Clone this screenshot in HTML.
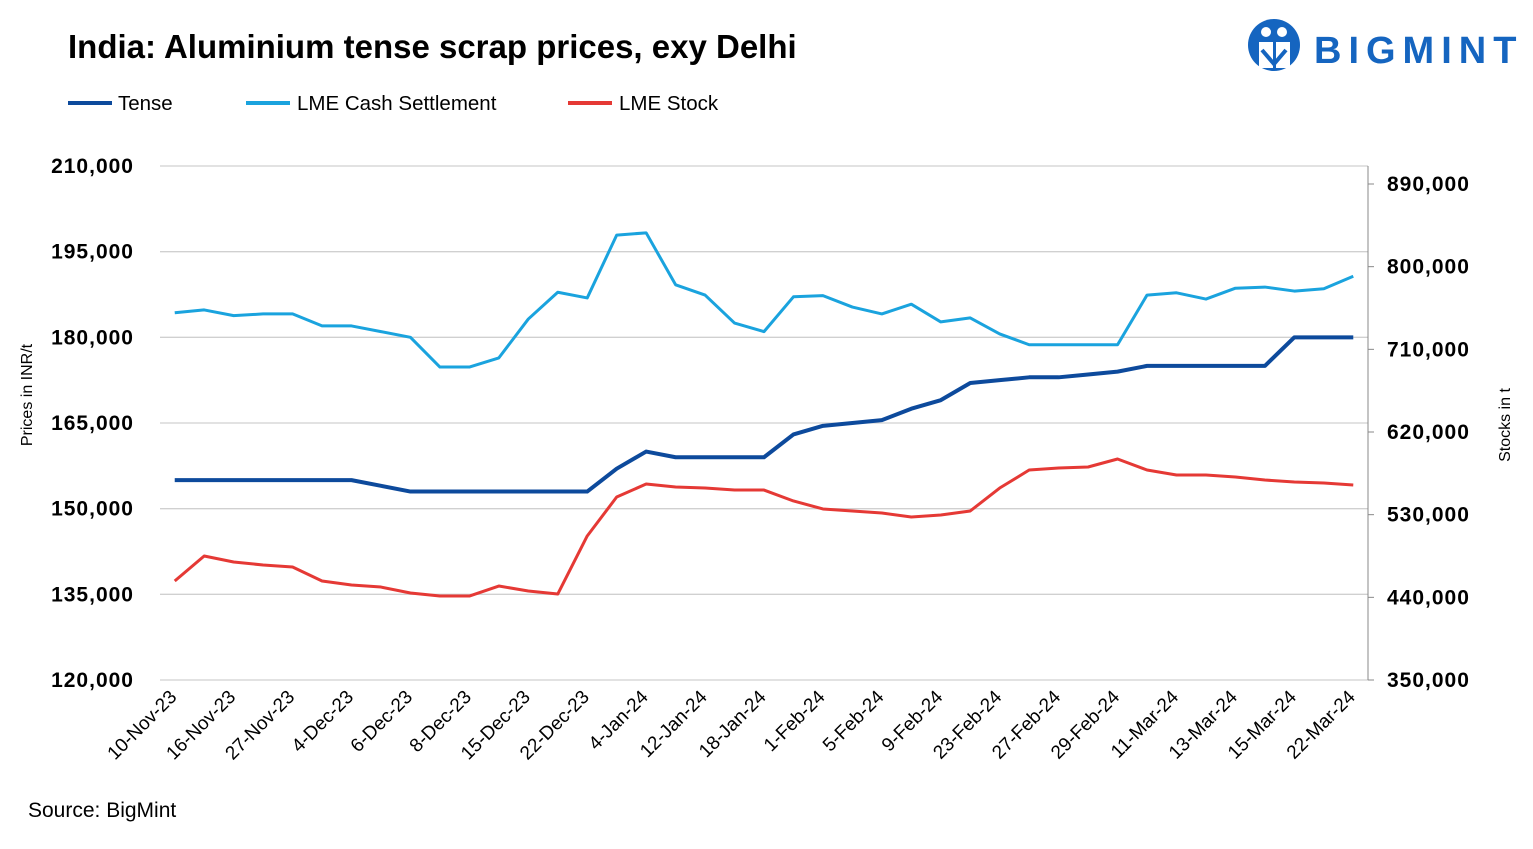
<!DOCTYPE html>
<html><head><meta charset="utf-8">
<style>
body{margin:0;background:#fff;font-family:"Liberation Sans",sans-serif;}
svg text{font-family:"Liberation Sans",sans-serif;}
</style></head>
<body>
<svg id="c" width="1533" height="844">
  <text x="68" y="58" font-size="33" font-weight="bold" fill="#000">India: Aluminium tense scrap prices, exy Delhi</text>
  <g>
    <circle cx="1274" cy="45" r="26" fill="#1565c0"/>
    <circle cx="1266" cy="32" r="5" fill="#fff"/>
    <circle cx="1282" cy="32" r="5" fill="#fff"/>
    <path d="M1259 42 h14 v26 h-14z M1276 42 h14 v26 h-14z" fill="#fff"/>
    <path d="M1262 50 l12 14 l12 -14" stroke="#1565c0" stroke-width="4" fill="none"/>
    <text x="1314" y="63" font-size="38" font-weight="bold" fill="#1565c0" letter-spacing="7">BIGMINT</text>
  </g>
  <g>
    <g><line x1="68" y1="103" x2="112" y2="103" stroke="#0d4a9c" stroke-width="4"/><text x="118" y="110" font-size="20.5">Tense</text></g>
    <g><line x1="246" y1="103" x2="290" y2="103" stroke="#1aa3de" stroke-width="4"/><text x="297" y="110" font-size="20.5">LME Cash Settlement</text></g>
    <g><line x1="568" y1="103" x2="612" y2="103" stroke="#e53935" stroke-width="4"/><text x="619" y="110" font-size="20.5">LME Stock</text></g>
  </g>
  <g id="plot"></g>
  <text x="32" y="395" font-size="16" transform="rotate(-90 32 395)" text-anchor="middle">Prices in INR/t</text>
  <text x="1510" y="425" font-size="16" transform="rotate(-90 1510 425)" text-anchor="middle">Stocks in t</text>
  <text x="28" y="817" font-size="21">Source: BigMint</text>
</svg>
<script>
const categories=["10-Nov-23","13-Nov-23","16-Nov-23","22-Nov-23","27-Nov-23","30-Nov-23","4-Dec-23","5-Dec-23","6-Dec-23","7-Dec-23","8-Dec-23","12-Dec-23","15-Dec-23","19-Dec-23","22-Dec-23","28-Dec-23","4-Jan-24","9-Jan-24","12-Jan-24","16-Jan-24","18-Jan-24","25-Jan-24","1-Feb-24","2-Feb-24","5-Feb-24","7-Feb-24","9-Feb-24","16-Feb-24","23-Feb-24","26-Feb-24","27-Feb-24","28-Feb-24","29-Feb-24","8-Mar-24","11-Mar-24","12-Mar-24","13-Mar-24","14-Mar-24","15-Mar-24","20-Mar-24","22-Mar-24"];
const tense=[155000,155000,155000,155000,155000,155000,155000,154000,153000,153000,153000,153000,153000,153000,153000,157000,160000,159000,159000,159000,159000,163000,164500,165000,165500,167500,169000,172000,172500,173000,173000,173500,174000,175000,175000,175000,175000,175000,180000,180000,180000];
const lmeCash=[184300,184800,183800,184100,184100,182000,182000,181000,180000,174800,174800,176400,183200,187900,186900,197900,198300,189200,187400,182500,181000,187100,187300,185300,184100,185800,182700,183400,180600,178700,178700,178700,178700,187400,187800,186700,188600,188800,188100,188500,190700];
const lmeStock=[457800,485000,478500,475200,473000,457800,453400,451200,444700,441400,441400,452300,446900,443600,506800,549200,563400,560100,559000,556800,556800,544900,536200,534000,531800,527500,529600,534000,559000,578600,580800,581900,590600,578600,573200,573200,571000,567700,565600,564500,562300];
const leftTicks=[120000,135000,150000,165000,180000,195000,210000];
const rightTicks=[350000,440000,530000,620000,710000,800000,890000];

const NS="http://www.w3.org/2000/svg";
const X0=160,X1=1368,YT=166,YB=680;
const LMIN=120000,LMAX=210000,RMIN=350000,RMAX=909600;
const bw=(X1-X0)/categories.length;
const xs=i=>X0+bw*(i+0.5);
const yl=v=>YB-(v-LMIN)/(LMAX-LMIN)*(YB-YT);
const yr=v=>YB-(v-RMIN)/(RMAX-RMIN)*(YB-YT);
const g=document.getElementById('plot');
function mk(t,a){const e=document.createElementNS(NS,t);for(const k in a)e.setAttribute(k,a[k]);g.appendChild(e);return e;}
leftTicks.forEach(v=>{
  const l=mk('line',{x1:X0,x2:X1,y1:yl(v),y2:yl(v),stroke:'#d0d0d0','stroke-width':1.3});
  
  
  const t=mk('text',{x:134,y:yl(v)+7,'text-anchor':'end','font-size':21,'font-weight':'bold','letter-spacing':1});
  t.textContent=v.toLocaleString('en-US');
  
  
});
rightTicks.forEach(v=>{
  const l=mk('line',{x1:X1,x2:X1+6,y1:yr(v),y2:yr(v),stroke:'#888'});
  
  
  const t=mk('text',{x:1387,y:yr(v)+7,'font-size':21,'font-weight':'bold','letter-spacing':1});
  t.textContent=v.toLocaleString('en-US');
  
  
});
const ax=mk('line',{x1:X1,x2:X1,y1:YT,y2:YB,stroke:'#888'});


categories.forEach((c,i)=>{
  if(i%2===0){
    const cx=xs(i)+3,cy=YB+18;
    const t=mk('text',{x:cx,y:cy,'text-anchor':'end','font-size':19,transform:`rotate(-45 ${cx} ${cy})`});
    t.textContent=c;
    
    
  }
});
function series(arr,yf,col,w,name){
  const p=mk('polyline',{points:arr.map((v,i)=>xs(i)+','+yf(v)).join(' '),fill:'none',stroke:col,'stroke-width':w,'stroke-linejoin':'round'});
  
  
}
series(lmeCash,yl,'#1aa3de',3,'line-lme-cash');
series(lmeStock,yr,'#e53935',3,'line-lme-stock');
series(tense,yl,'#0d4a9c',4,'line-tense');
</script>
</body></html>
